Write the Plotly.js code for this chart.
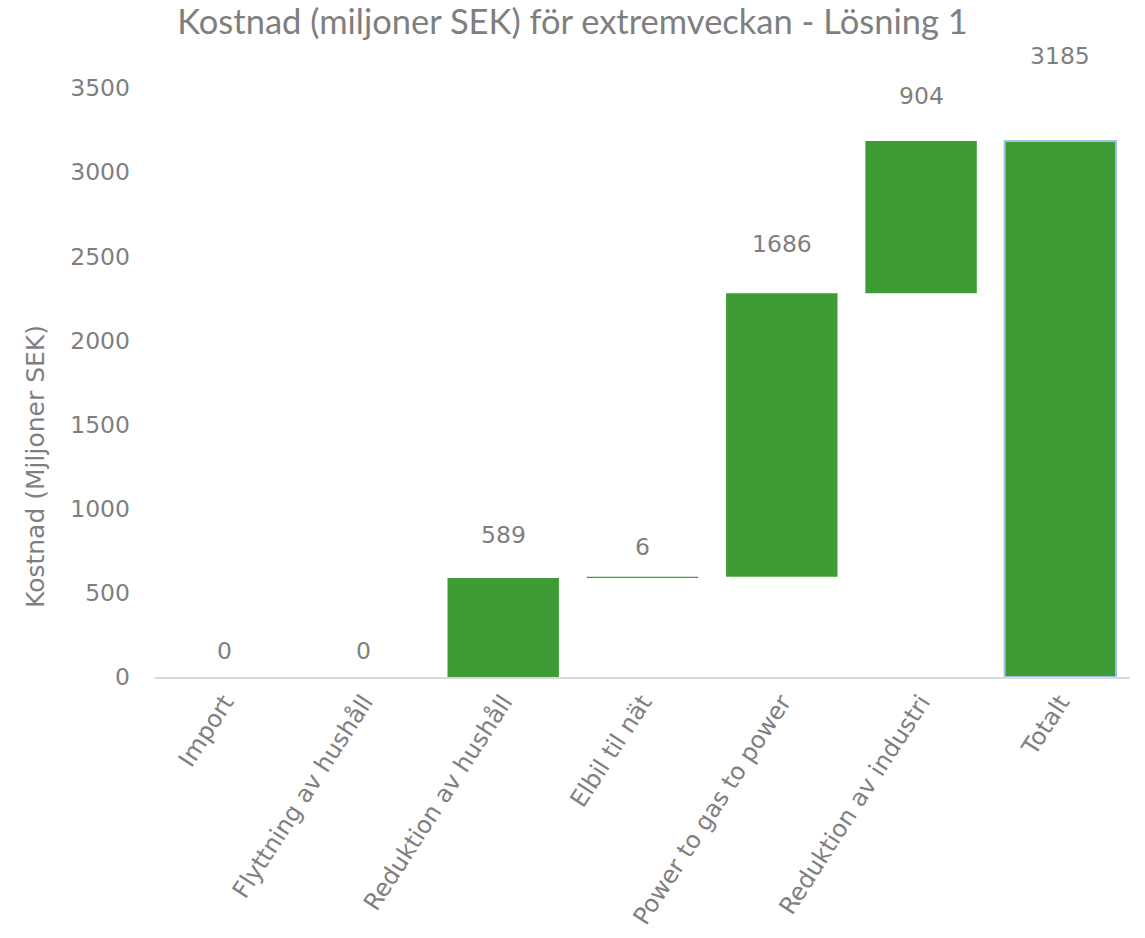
<!DOCTYPE html>
<html>
<head>
<meta charset="utf-8">
<script src="https://cdn.plot.ly/plotly-3.0.1.min.js"></script>
<style>html,body{margin:0;padding:0;background:#fff;}#chart{width:1145px;height:938px;}</style>
</head>
<body>
<div id="chart"></div>
<script>
const categories = ["Import", "Flyttning av hushåll", "Reduktion av hushåll", "Elbil til nät", "Power to gas to power", "Reduktion av industri", "Totalt"];
const values = [0, 0, 589, 6, 1686, 904, 3185];
const measures = ["relative", "relative", "relative", "relative", "relative", "relative", "total"];
const labels = ["0", "0", "589", "6", "1686", "904", "3185"];
const labelShift = [26, 26, 43, 30, 49, 45, 85];
const yTitle = "Kostnad (Mjljoner SEK)";
const chartTitle = "Kostnad (miljoner SEK) för extremveckan - Lösning 1";

const green = "#3f9b35";
const grey = "#7f7f7f";
const bodyFont = "DejaVu Sans, Verdana, sans-serif";

let run = 0;
const tops = values.map((v, i) => {
  if (measures[i] === "total") return v;
  run += v;
  return run;
});

const annotations = categories.map((c, i) => ({
  x: c, y: tops[i], xref: "x", yref: "y",
  text: labels[i], showarrow: false, yshift: labelShift[i],
  font: {family: bodyFont, size: 23.5, color: grey}
}));

// y-axis title (placed like the original, below the plot-area centre)
annotations.push({
  xref: "paper", yref: "paper", x: 0, y: 0.3565,
  xanchor: "center", yanchor: "middle", xshift: -120,
  textangle: -90, showarrow: false, text: yTitle,
  font: {family: bodyFont, size: 25, color: grey}
});

const trace = {
  type: "waterfall",
  x: categories,
  y: values,
  measure: measures,
  textposition: "none",
  connector: {visible: false},
  increasing: {marker: {color: green, line: {width: 0}}},
  decreasing: {marker: {color: green, line: {width: 0}}},
  totals: {marker: {color: green, line: {color: "#9dc3e6", width: 2}}},
  hoverinfo: "none"
};

const layout = {
  width: 1145, height: 938,
  margin: {l: 155, r: 15, t: 88, b: 261},
  paper_bgcolor: "#fff", plot_bgcolor: "#fff",
  bargap: 0.28,
  showlegend: false,
  title: {text: chartTitle,
          font: {family: "Lato, Open Sans, sans-serif", size: 34.5, color: grey},
          x: 0.5, xref: "container", xanchor: "center", y: 0.977, yanchor: "middle"},
  xaxis: {
    type: "category",
    showgrid: false, zeroline: false,
    showline: true, linecolor: "#d9d9d9", linewidth: 1.5,
    ticks: "", tickangle: -57,
    tickfont: {family: bodyFont, size: 24, color: grey}
  },
  yaxis: {
    range: [0, 3500], dtick: 500,
    showgrid: false, zeroline: false, showline: false, ticks: "",
    ticklabelstandoff: 24,
    tickfont: {family: bodyFont, size: 23.5, color: grey}
  },
  annotations: annotations
};

Plotly.newPlot("chart", [trace], layout, {displayModeBar: false, staticPlot: true});
</script>
</body>
</html>
